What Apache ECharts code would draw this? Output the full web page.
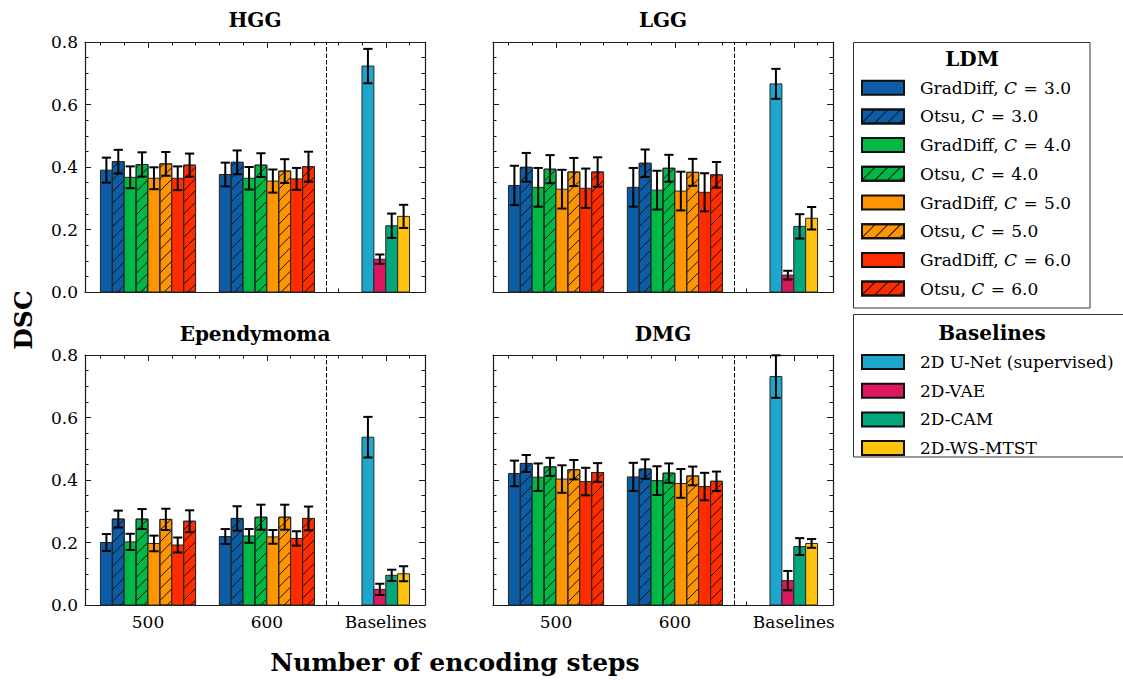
<!DOCTYPE html>
<html>
<head>
<meta charset="utf-8">
<script src="https://cdn.jsdelivr.net/npm/echarts@6/dist/echarts.min.js"></script>
<style>
  html, body { margin: 0; padding: 0; background: #ffffff; }
  #chart { width: 1123px; height: 680px; }
</style>
</head>
<body>
<div id="chart"></div>
<script>
// ---- categories and labels ----
const groups = ['500', '600', 'Baselines'];
const panels = ['HGG', 'LGG', 'Ependymoma', 'DMG'];
const ldmMethods = [
  'GradDiff, C = 3.0', 'Otsu, C = 3.0',
  'GradDiff, C = 4.0', 'Otsu, C = 4.0',
  'GradDiff, C = 5.0', 'Otsu, C = 5.0',
  'GradDiff, C = 6.0', 'Otsu, C = 6.0'
];
const baselineMethods = ['2D U-Net (supervised)', '2D-VAE', '2D-CAM', '2D-WS-MTST'];
const yTicks = [0, 0.2, 0.4, 0.6, 0.8];

// ---- mean DSC and standard error, per tumour type ----
// LDM values follow the order of ldmMethods; baselines follow baselineMethods
const hgg500 = [0.390, 0.417, 0.367, 0.408, 0.364, 0.410, 0.364, 0.406];
const hgg500Err = [0.040, 0.038, 0.035, 0.039, 0.035, 0.038, 0.038, 0.037];
const hgg600 = [0.376, 0.415, 0.364, 0.406, 0.355, 0.387, 0.362, 0.401];
const hgg600Err = [0.038, 0.038, 0.036, 0.038, 0.037, 0.038, 0.035, 0.048];
const hggBase = [0.723, 0.105, 0.212, 0.242];
const hggBaseErr = [0.055, 0.015, 0.039, 0.037];

const lgg500 = [0.341, 0.399, 0.335, 0.393, 0.329, 0.384, 0.332, 0.384];
const lgg500Err = [0.063, 0.046, 0.062, 0.045, 0.062, 0.045, 0.063, 0.047];
const lgg600 = [0.335, 0.412, 0.326, 0.396, 0.323, 0.383, 0.319, 0.375];
const lgg600Err = [0.062, 0.044, 0.062, 0.043, 0.062, 0.043, 0.061, 0.041];
const lggBase = [0.666, 0.054, 0.210, 0.236];
const lggBaseErr = [0.048, 0.014, 0.039, 0.036];

const epe500 = [0.200, 0.275, 0.202, 0.275, 0.197, 0.274, 0.192, 0.268];
const epe500Err = [0.027, 0.027, 0.026, 0.032, 0.025, 0.034, 0.024, 0.035];
const epe600 = [0.219, 0.277, 0.221, 0.281, 0.218, 0.281, 0.213, 0.277];
const epe600Err = [0.024, 0.039, 0.022, 0.040, 0.022, 0.040, 0.023, 0.038];
const epeBase = [0.537, 0.050, 0.095, 0.100];
const epeBaseErr = [0.065, 0.018, 0.018, 0.024];

const dmg500 = [0.421, 0.453, 0.409, 0.442, 0.403, 0.433, 0.395, 0.424];
const dmg500Err = [0.041, 0.027, 0.044, 0.029, 0.044, 0.031, 0.044, 0.030];
const dmg600 = [0.410, 0.435, 0.398, 0.422, 0.389, 0.413, 0.379, 0.396];
const dmg600Err = [0.045, 0.031, 0.046, 0.031, 0.046, 0.030, 0.044, 0.031];
const dmgBase = [0.731, 0.078, 0.187, 0.197];
const dmgBaseErr = [0.068, 0.031, 0.027, 0.014];

const panelData = [
  { mean: [hgg500, hgg600], err: [hgg500Err, hgg600Err], base: hggBase, baseErr: hggBaseErr },
  { mean: [lgg500, lgg600], err: [lgg500Err, lgg600Err], base: lggBase, baseErr: lggBaseErr },
  { mean: [epe500, epe600], err: [epe500Err, epe600Err], base: epeBase, baseErr: epeBaseErr },
  { mean: [dmg500, dmg600], err: [dmg500Err, dmg600Err], base: dmgBase, baseErr: dmgBaseErr }
];

// ---- styling ----
const ldmColors = ['#0C5DA5', '#00B945', '#FF9500', '#FF2C00'];
const baseColors = ['#1EA6CC', '#DB1760', '#04A67C', '#FFC20E'];
const SERIF = 'DejaVu Serif';
const INK = '#000000';
const FRAME = '#1a1a1a';
const BAR = 0.1;            // bar width in x-axis units
const XMIN = -0.53, XMAX = 2.33;
const HATCH = 11.7;         // pixel pitch of the "//" hatch
const CAP = 4.6;            // half width of error-bar caps, px

const grids = [
  { left: 85, top: 42, width: 340, height: 250 },
  { left: 493, top: 42, width: 340, height: 250 },
  { left: 85, top: 355, width: 340, height: 250 },
  { left: 493, top: 355, width: 340, height: 250 }
];

const minorX = [-0.4, -0.2, 0.2, 0.4, 0.6, 0.8, 1.2, 1.4, 1.6, 1.8, 2.2];

// Bar + optional hatch + error bar, all placed through the cartesian scales
function makeRender(hatched) {
  return function (params, api) {
    const x = api.value(0), v = api.value(1), e = api.value(2);
    const bl = api.coord([x - BAR / 2, 0]);
    const tr = api.coord([x + BAR / 2, v]);
    const x0 = bl[0], x1 = tr[0], y0 = tr[1], y1 = bl[1];
    const children = [{
      type: 'rect',
      shape: { x: x0, y: y0, width: x1 - x0, height: y1 - y0 },
      style: { fill: api.visual('color'), stroke: '#262626', lineWidth: 1 }
    }];
    if (hatched) {
      const start = Math.ceil((x0 + y0) / HATCH) * HATCH;
      for (let c = start; c <= x1 + y1; c += HATCH) {
        const xa = Math.max(x0, c - y1), xb = Math.min(x1, c - y0);
        if (xb - xa > 0.3) {
          children.push({
            type: 'line',
            shape: { x1: xa, y1: c - xa, x2: xb, y2: c - xb },
            style: { stroke: '#111111', lineWidth: 1 }
          });
        }
      }
      children.push({
        type: 'rect',
        shape: { x: x0, y: y0, width: x1 - x0, height: y1 - y0 },
        style: { fill: null, stroke: '#262626', lineWidth: 1 }
      });
    }
    const top = api.coord([x, v + e]), bot = api.coord([x, v - e]);
    const es = { stroke: INK, lineWidth: 2 };
    children.push({ type: 'line', shape: { x1: top[0], y1: top[1], x2: bot[0], y2: bot[1] }, style: es });
    children.push({ type: 'line', shape: { x1: top[0] - CAP, y1: top[1], x2: top[0] + CAP, y2: top[1] }, style: es });
    children.push({ type: 'line', shape: { x1: bot[0] - CAP, y1: bot[1], x2: bot[0] + CAP, y2: bot[1] }, style: es });
    return { type: 'group', children };
  };
}

const hatchDecal = {
  symbol: 'rect', symbolSize: 1, color: '#111111', backgroundColor: null,
  dashArrayX: [1, 0], dashArrayY: [1, 7.3], rotation: -Math.PI / 4
};

const xAxes = [], yAxes = [], series = [];
grids.forEach((g, i) => {
  const bottomRow = i >= 2, leftCol = i % 2 === 0;
  const axisLine = { show: true, onZero: false, lineStyle: { color: FRAME, width: 1.2 } };
  ['bottom', 'top'].forEach(pos => {
    xAxes.push({
      type: 'value', gridIndex: i, position: pos, min: XMIN, max: XMAX,
      axisLine, splitLine: { show: false },
      axisTick: { show: true, inside: true, length: 6, lineStyle: { color: FRAME, width: 1 }, customValues: [0, 1, 2] },
      axisLabel: {
        show: pos === 'bottom' && bottomRow, customValues: [0, 1, 2],
        formatter: v => groups[Math.round(v)], margin: 8,
        fontFamily: SERIF, fontSize: 17, color: INK
      }
    });
    xAxes.push({
      type: 'value', gridIndex: i, position: pos, min: XMIN, max: XMAX,
      axisLine: { show: false, onZero: false }, splitLine: { show: false }, axisLabel: { show: false },
      axisTick: { show: true, inside: true, length: 3.5, lineStyle: { color: FRAME, width: 1 }, customValues: minorX }
    });
  });
  ['left', 'right'].forEach(pos => {
    yAxes.push({
      type: 'value', gridIndex: i, position: pos, min: 0, max: 0.8, interval: 0.2,
      axisLine, splitLine: { show: false },
      axisTick: { show: true, inside: true, length: 6, lineStyle: { color: FRAME, width: 1 } },
      minorTick: { show: true, splitNumber: 4, length: 3.5, lineStyle: { color: FRAME, width: 1 } },
      axisLabel: {
        show: pos === 'left' && leftCol, margin: 7,
        formatter: v => yTicks.indexOf(v) >= 0 ? v.toFixed(1) : '',
        fontFamily: SERIF, fontSize: 17, color: INK
      }
    });
  });

  const d = panelData[i];
  ldmMethods.forEach((name, m) => {
    const s = {
      type: 'custom', name, coordinateSystem: 'cartesian2d',
      xAxisIndex: 4 * i, yAxisIndex: 2 * i,
      itemStyle: Object.assign(
        { color: ldmColors[Math.floor(m / 2)], borderColor: '#111111', borderWidth: 1 },
        m % 2 ? { decal: hatchDecal } : {}),
      encode: { x: 0, y: 1 },
      renderItem: makeRender(m % 2 === 1),
      data: [0, 1].map(gi => [gi + (m - 3.5) * BAR, d.mean[gi][m], d.err[gi][m]]),
      z: 2
    };
    if (m === 0) {
      // dashed separator between the LDM groups and the baselines
      s.markLine = {
        silent: true, symbol: ['none', 'none'], label: { show: false },
        lineStyle: { color: INK, type: [4.5, 2], width: 1 },
        data: [{ xAxis: 1.5 }]
      };
    }
    series.push(s);
  });
  baselineMethods.forEach((name, b) => {
    series.push({
      type: 'custom', name, coordinateSystem: 'cartesian2d',
      xAxisIndex: 4 * i, yAxisIndex: 2 * i,
      itemStyle: { color: baseColors[b], borderColor: '#111111', borderWidth: 1 },
      encode: { x: 0, y: 1 },
      renderItem: makeRender(false),
      data: [[2 + (b - 1.5) * BAR, d.base[b], d.baseErr[b]]],
      z: 2
    });
  });
});

const legendText = {
  fontFamily: SERIF, fontSize: 17, color: INK, lineHeight: 20, padding: [0, 0, 0, 11],
  rich: {
    i: { fontFamily: SERIF, fontSize: 17, fontStyle: 'italic', color: INK, lineHeight: 20 },
    eq: { fontFamily: SERIF, fontSize: 17, color: INK, lineHeight: 20, padding: [0, 1] }
  }
};
const legendCommon = {
  orient: 'vertical', left: 861, padding: 0, icon: 'rect',
  itemWidth: 42, itemHeight: 14, itemGap: 8.7, selectedMode: false,
  textStyle: legendText
};

const titleFont = 'bold 20px "DejaVu Serif"';
function label(text, x, y, font, extra) {
  return Object.assign({
    type: 'text', x, y, z: 10,
    style: { text, font, fill: INK, align: 'center', verticalAlign: 'middle', textAlign: 'center', textVerticalAlign: 'middle' }
  }, extra || {});
}

const option = {
  animation: false,
  backgroundColor: '#ffffff',
  grid: grids,
  xAxis: xAxes,
  yAxis: yAxes,
  series,
  legend: [
    Object.assign({}, legendCommon, {
      top: 77.7, data: ldmMethods,
      formatter: n => n.replace('C = ', '{i|C} {eq|=} ')
    }),
    Object.assign({}, legendCommon, { top: 352, data: baselineMethods })
  ],
  graphic: [
    { type: 'rect', z: 0, shape: { x: 853.5, y: 42.5, width: 236.5, height: 265.5 }, style: { fill: null, stroke: '#333333', lineWidth: 1 } },
    { type: 'rect', z: 0, shape: { x: 853.5, y: 314.5, width: 275, height: 142.5 }, style: { fill: null, stroke: '#333333', lineWidth: 1 } },
    label('LDM', 972, 59, titleFont),
    label('Baselines', 992, 333, titleFont),
    label(panels[0], 255, 20, titleFont),
    label(panels[1], 663, 20, titleFont),
    label(panels[2], 255, 334, titleFont),
    label(panels[3], 663, 334, titleFont),
    label('Number of encoding steps', 455, 662, 'bold 25px "DejaVu Serif"'),
    label('DSC', 23, 320, 'bold 25px "DejaVu Serif"', { rotation: Math.PI / 2 })
  ]
};

const chart = echarts.init(document.getElementById('chart'), null, { renderer: 'svg' });
chart.setOption(option);
</script>
</body>
</html>
